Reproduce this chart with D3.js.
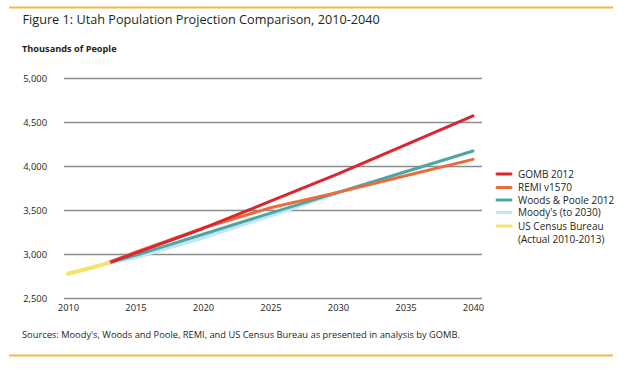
<!DOCTYPE html>
<html><head><meta charset="utf-8">
<script src="https://cdn.jsdelivr.net/npm/d3@7"></script>
<style>body{margin:0;background:#fff}svg{display:block}text{font-family:"Open Sans",sans-serif;fill:#231f20}</style>
</head><body><svg id="c" width="640" height="370"></svg>
<script>
const title = "Figure 1: Utah Population Projection Comparison, 2010-2040";
const yAxisTitle = "Thousands of People";
const source = "Sources: Moody's, Woods and Poole, REMI, and US Census Bureau as presented in analysis by GOMB.";
const xTicks = [2010, 2015, 2020, 2025, 2030, 2035, 2040];
const yTicks = [2500, 3000, 3500, 4000, 4500, 5000];

const moodysYears = [2013, 2015, 2020, 2025, 2030];
const moodysVals  = [2900, 2965, 3190, 3440, 3700];
const woodsYears  = [2013, 2015, 2020, 2025, 2030, 2035, 2040];
const woodsVals   = [2900, 2985, 3225, 3465, 3700, 3935, 4170];
const remiYears   = [2013, 2015, 2020, 2025, 2030, 2035, 2040];
const remiVals    = [2905, 3020, 3295, 3525, 3700, 3890, 4075];
const gombYears   = [2013, 2015, 2020, 2025, 2030, 2035, 2040];
const gombVals    = [2900, 3010, 3290, 3600, 3910, 4240, 4570];
const censusYears = [2010, 2011, 2012, 2013];
const censusVals  = [2775, 2815, 2855, 2900];

const seriesNames = ["GOMB 2012", "REMI v1570", "Woods & Poole 2012", "Moody's (to 2030)", "US Census Bureau"];
const censusNote = "(Actual 2010-2013)";
const colors = {gomb:"#d9262f", remi:"#ec6b3b", woods:"#4ea5a6", moodys:"#c3e6f7", census:"#f6e36c"};

const svg = d3.select("#c");
const x = d3.scaleLinear().domain([2010, 2040]).range([68, 473]);
const y = d3.scaleLinear().domain([2500, 5000]).range([298, 78]);

svg.append("line").attr("x1",9).attr("x2",613).attr("y1",7.5).attr("y2",7.5).attr("stroke","#f7b844").attr("stroke-width",2);
svg.append("line").attr("x1",9).attr("x2",613).attr("y1",355.5).attr("y2",355.5).attr("stroke","#f7b844").attr("stroke-width",2);

svg.append("text").attr("x",22.5).attr("y",24).attr("font-size",12.7).text(title);
svg.append("text").attr("x",22).attr("y",52).attr("font-size",9.2).attr("font-weight","bold").text(yAxisTitle);
svg.append("text").attr("x",22).attr("y",338).attr("font-size",9.3).text(source);

const yAxis = d3.axisLeft(y).tickValues(yTicks).tickFormat(d3.format(",")).tickSize(-(482-64)).tickPadding(17);
const gy = svg.append("g").attr("transform","translate(64,0)").call(yAxis);
gy.select(".domain").remove();
gy.selectAll(".tick line").attr("stroke","#8c8c8c").attr("stroke-width",1.3);
gy.selectAll(".tick text").attr("font-size",9.4).attr("font-family","Open Sans").attr("fill","#231f20");

const xAxis = d3.axisBottom(x).tickValues(xTicks).tickFormat(d3.format("d")).tickSize(0).tickPadding(6);
const gx = svg.append("g").attr("transform","translate(0,298)").call(xAxis);
gx.select(".domain").remove();
gx.selectAll(".tick text").attr("font-size",9.4).attr("font-family","Open Sans").attr("fill","#231f20");

const line = d3.line().x(d=>x(d[0])).y(d=>y(d[1]));
function draw(years, vals, color, w){
  svg.append("path").datum(years.map((yr,i)=>[yr, vals[i]]))
    .attr("d", line).attr("fill","none").attr("stroke",color).attr("stroke-width",w)
    .attr("stroke-linecap","round").attr("stroke-linejoin","round");
}
draw(moodysYears, moodysVals, colors.moodys, 4.5);
draw(woodsYears, woodsVals, colors.woods, 3);
draw(remiYears, remiVals, colors.remi, 3);
draw(gombYears, gombVals, colors.gomb, 3);
draw(censusYears, censusVals, colors.census, 4);

const legendColors = [colors.gomb, colors.remi, colors.woods, colors.moodys, colors.census];
const legendY = [174, 187.5, 200, 212.5, 226];
const lg = svg.append("g");
seriesNames.forEach((n,i)=>{
  lg.append("line").attr("x1",497).attr("x2",511).attr("y1",legendY[i]).attr("y2",legendY[i])
    .attr("stroke",legendColors[i]).attr("stroke-width",3).attr("stroke-linecap","round");
  lg.append("text").attr("x",518).attr("y",legendY[i]+3.5).attr("font-size",10).text(n);
});
lg.append("text").attr("x",518).attr("y",legendY[4]+3.5+13.6).attr("font-size",10).text(censusNote);
</script></body></html>
